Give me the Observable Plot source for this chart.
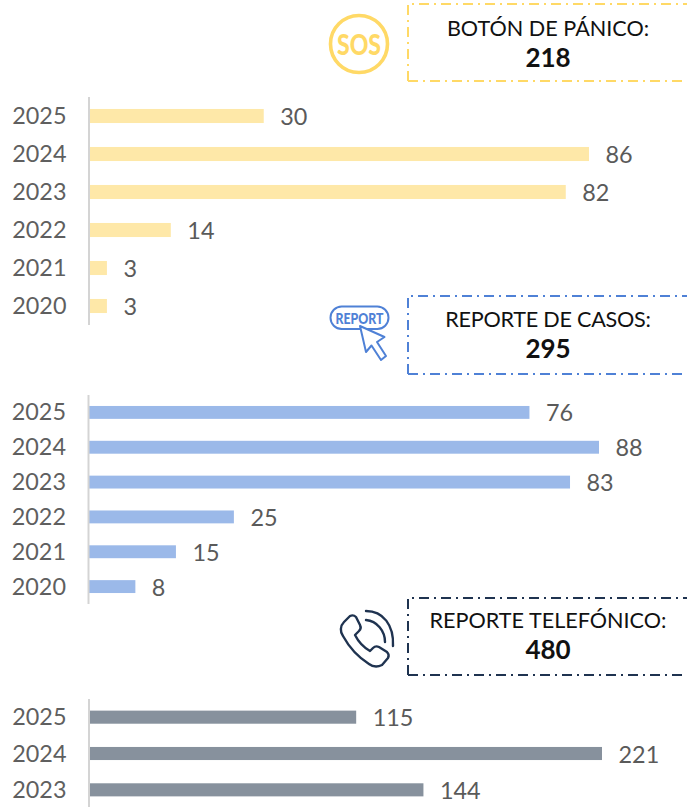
<!DOCTYPE html>
<html><head><meta charset="utf-8">
<script src="https://cdn.jsdelivr.net/npm/d3@7"></script>
<script src="https://cdn.jsdelivr.net/npm/@observablehq/plot@0.6"></script>
<style>
html,body{margin:0;padding:0;background:#fff}
#page{position:relative;width:687px;height:807px;overflow:hidden;font-family:Lato,sans-serif}
#page>svg,#page>div{position:absolute}
.box{left:407px;width:290px;text-align:center;box-sizing:border-box;color:#111}
.box svg{position:absolute;left:0;top:0}
.lab{position:absolute;width:316px;text-align:center;font-size:21.6px;line-height:26px}
.tot{position:absolute;width:316px;text-align:center;font-size:26px;font-weight:700;line-height:30px}
</style></head><body><div id="page"></div>
<script>
const panicYears = ["2025","2024","2023","2022","2021","2020"];
const panicValues = [30,86,82,14,3,3];
const reportYears = ["2025","2024","2023","2022","2021","2020"];
const reportValues = [76,88,83,25,15,8];
const phoneYears = ["2025","2024","2023"];
const phoneValues = [115,221,144];

const page = document.getElementById("page");

function panel({years, values, color, xMax, xStart, xEnd, top, height, barPad}) {
  const rows = years.map((y,i)=>({year:y,value:values[i]}));
  const p = Plot.plot({
    width:687, height, margin:0,
    style:{background:"transparent",fontFamily:"Lato,sans-serif",overflow:"visible"},
    x:{domain:[0,xMax],range:[xStart,xEnd],axis:null},
    y:{domain:years,range:[0,height],round:false,paddingInner:barPad,paddingOuter:barPad/2,axis:null},
    marks:[
      Plot.barX(rows,{x:"value",y:"year",fill:color}),
      Plot.ruleX([0],{stroke:"#d4d4d4",strokeWidth:2,dx:-1}),
      Plot.text(rows,{x:0,y:"year",text:"year",textAnchor:"end",dx:-23.5,dy:0,fontSize:23.4,fill:"#5f5f5f"}),
      Plot.text(rows,{x:"value",y:"year",text:d=>String(d.value),textAnchor:"start",
        dx:16,dy:1,fontSize:23.4,fill:"#5a5a5a"})
    ]
  });
  p.style.left="0px"; p.style.top=top+"px";
  page.appendChild(p);
}
panel({years:panicYears,values:panicValues,color:"#FEE8A8",xMax:86,xStart:89.5,xEnd:589,top:97,height:228,barPad:0.63});
panel({years:reportYears,values:reportValues,color:"#9BB9E9",xMax:88,xStart:89,xEnd:599,top:394.5,height:209,barPad:0.63});
panel({years:phoneYears,values:phoneValues,color:"#87919D",xMax:221,xStart:89.5,xEnd:602,top:699,height:109,barPad:0.64});

function box(label,total,color,top,h,tx,ty,tty,ls){
  const d=document.createElement("div");
  d.className="box"; d.style.top=top+"px"; d.style.height=h+"px";
  d.innerHTML=`<svg width="290" height="${h}"><path d="M1 ${h-1}V1H290M1 ${h-1}H290" fill="none" stroke="${color}" stroke-width="2" stroke-dasharray="10 5 2 5"/></svg>
  <div class="lab" style="top:${ty}px;left:${tx}px;letter-spacing:${ls}px">${label}</div><div class="tot" style="top:${tty}px;left:${tx}px">${total}</div>`;
  page.appendChild(d);
}
box("BOTÓN DE PÁNICO:","218","#FFD966",3,79,-17,12,39,0);
box("REPORTE DE CASOS:","295","#4F81D6",295,80,-17,11,38,-0.25);
box("REPORTE TELEFÓNICO:","480","#1F3350",597,79,-17,10,37,0);

const icons=document.createElement("div");
icons.style.cssText="left:0;top:0";
icons.innerHTML=`<svg width="687" height="807" style="position:absolute;left:0;top:0;overflow:visible">
<circle cx="359" cy="44" r="28.5" fill="none" stroke="#FFD966" stroke-width="3.6"/>
<text x="359" y="54.5" text-anchor="middle" font-family="Lato,sans-serif" font-weight="900" font-size="29" fill="#FFD966" textLength="44" lengthAdjust="spacingAndGlyphs">SOS</text>
<rect x="330.5" y="306.5" width="58" height="22.5" rx="11.2" fill="#fff" stroke="#4F81D6" stroke-width="2"/>
<text x="359.5" y="323.5" text-anchor="middle" font-family="Lato,sans-serif" font-weight="900" font-size="15" fill="#4F81D6" textLength="48" lengthAdjust="spacingAndGlyphs">REPORT</text>
<path d="M360 326 L366 352 L371.5 345.5 L381 360 L386 356 L377 342 L384.5 337 Z" fill="#fff" stroke="#4F81D6" stroke-width="2" stroke-linejoin="round"/>
<g fill="none" stroke="#1F3350" stroke-width="2.4" stroke-linecap="round" stroke-linejoin="round">
<path d="M344 622 C340 626 340 632 343 636 C349 647 358 657 369 664 C373 667 378 667 382 665 L388 658 C389 656 389 654 387 652 L379 647 C377 646 375 646 373 648 L370 651 C363 647 358 641 355 635 L359 631 C361 629 361 627 360 625 L356 617 C354 615 352 615 350 616 Z"/>
<path d="M366 620 C377 621 385 631 385 642"/>
<path d="M366 611 C383 611 394 625 393 646"/>
</g></svg>`;
page.appendChild(icons);
</script></body></html>
